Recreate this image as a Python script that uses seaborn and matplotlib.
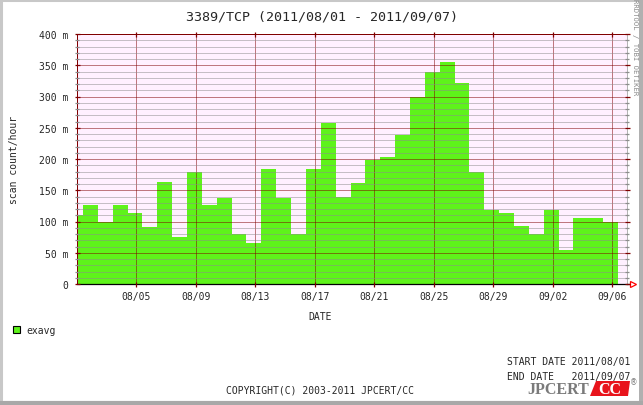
import numpy as np
import pandas as pd
import matplotlib
matplotlib.use("Agg")
import matplotlib.pyplot as plt
import seaborn as sns
from matplotlib.patches import Rectangle, Polygon
from matplotlib.lines import Line2D
from matplotlib.ticker import MultipleLocator, FixedLocator, FixedFormatter

# ---------------- data ----------------
start_date = "2011-08-01"
end_date = "2011-09-07"
bin_offset_days = 0.4          # bars start at this fraction of a day (first bar is partial)
exavg = [111, 127, 100, 127, 113, 92, 164, 76, 180, 126, 137, 80, 65, 184, 137, 80,
         184, 257, 139, 161, 198, 204, 239, 300, 339, 355, 322, 180, 118, 113, 93,
         80, 118, 55, 106, 105, 100]
y_ticks = [0, 50, 100, 150, 200, 250, 300, 350, 400]
y_tick_labels = ["0", "50 m", "100 m", "150 m", "200 m", "250 m", "300 m", "350 m", "400 m"]
x_tick_dates = pd.date_range("2011-08-05", "2011-09-06", freq="4D")
x_tick_labels = [d.strftime("%m/%d") for d in x_tick_dates]

# ---------------- derived ----------------
t0 = pd.Timestamp(start_date)
t1 = pd.Timestamp(end_date)
total_days = (t1 - t0).days
edges = [0.0] + [float(bin_offset_days + k) for k in range(len(exavg))]
centers = [(a + b) / 2 for a, b in zip(edges[:-1], edges[1:])]
df = pd.DataFrame({"day": centers, "exavg": exavg})
x_tick_pos = [(d - t0).days for d in x_tick_dates]

GREEN = "#5ef31a"
PINK = "#fff0ff"
DRED = "#800000"
GRAY = "#8c8c8c"

sns.set_style("white")
plt.rcParams["font.family"] = ["DejaVu Sans Mono", "DejaVu Sans"]

W, H = 643, 406
fig = plt.figure(figsize=(W / 100, H / 100), dpi=100)
fig.patch.set_facecolor("white")
ax = fig.add_axes([77 / W, (H - 285) / H, (627 - 77) / W, 250 / H])
ax.set_facecolor(PINK)

sns.histplot(data=df, x="day", weights="exavg", bins=edges, ax=ax,
             color=GREEN, alpha=1, linewidth=0, edgecolor=GREEN, stat="count")

ax.set_xlim(0, total_days)
ax.set_ylim(0, 400)
ax.set_xlabel("")
ax.set_ylabel("")

# ticks
ax.yaxis.set_major_locator(FixedLocator(y_ticks))
ax.yaxis.set_major_formatter(FixedFormatter(y_tick_labels))
ax.yaxis.set_minor_locator(MultipleLocator(10))
ax.xaxis.set_major_locator(FixedLocator(x_tick_pos))
ax.xaxis.set_major_formatter(FixedFormatter(x_tick_labels))

ax.tick_params(axis="y", which="major", direction="inout", length=3.6, width=0.9,
               color=DRED, labelsize=7, pad=4.5, right=True, left=True)
ax.tick_params(axis="y", which="minor", direction="inout", length=2.2, width=0.9,
               color=GRAY, right=True, left=True)
ax.tick_params(axis="x", which="major", direction="inout", length=3.6, width=0.9,
               color=DRED, labelsize=7, pad=3.5, top=True, bottom=True)

# grid on top of bars
ax.set_axisbelow(False)
ax.grid(which="major", axis="both", color=DRED, linestyle=(0, (1, 1)), linewidth=0.72)
ax.grid(which="minor", axis="y", color=GRAY, linestyle=(0, (1, 1)), linewidth=0.72)

for s in ("left", "top"):
    ax.spines[s].set_color(DRED)
    ax.spines[s].set_linestyle((0, (1, 1)))
    ax.spines[s].set_linewidth(0.72)
ax.spines["right"].set_color("#b4b4b4")
ax.spines["right"].set_linewidth(0.72)
ax.spines["bottom"].set_color("black")
ax.spines["bottom"].set_linewidth(0.9)

# axis arrow at the end of the x axis
ax.plot([1.0, 1.006], [0, 0], transform=ax.transAxes, color="black", lw=0.9, clip_on=False)
ax.plot([1.0115], [0], transform=ax.transAxes, marker=">", markersize=4.5,
        mfc="none", mec="red", mew=0.9, clip_on=False)

# texts
fig.text(0.5, 1 - 17.5 / H, "3389/TCP (2011/08/01 - 2011/09/07)", ha="center", va="center",
         fontsize=9.6)
fig.text(14 / W, 1 - 160 / H, "scan count/hour", rotation=90, ha="center", va="center",
         fontsize=7)
fig.text(320 / W, 1 - 317 / H, "DATE", ha="center", va="center", fontsize=7)
fig.text(635 / W, 1 - 47 / H, "RRDTOOL / TOBI OETIKER", rotation=270, ha="center",
         va="center", fontsize=5.2, color="#8a8a8a")

# legend
fig.patches.append(Rectangle((13 / W, 1 - 334 / H), 7 / W, 7 / H, transform=fig.transFigure,
                             facecolor=GREEN, edgecolor="black", lw=0.8))
fig.text(26 / W, 1 - 331 / H, "exavg", ha="left", va="center", fontsize=7)

fig.text(630 / W, 1 - 362 / H, "START DATE 2011/08/01", ha="right", va="center", fontsize=7)
fig.text(630 / W, 1 - 377 / H, "END DATE   2011/09/07", ha="right", va="center", fontsize=7)
fig.text(320 / W, 1 - 391 / H, "COPYRIGHT(C) 2003-2011 JPCERT/CC", ha="center", va="center",
         fontsize=7)

# logo
fig.text(589 / W, 1 - 390 / H, "JPCERT", ha="right", va="center", fontsize=11.5,
         family="Liberation Serif", weight="bold", color="#7a7a7a")
fig.patches.append(Polygon([(590 / W, 1 - 397 / H), (628 / W, 1 - 397 / H),
                            (630 / W, 1 - 382 / H), (596 / W, 1 - 382 / H)],
                           closed=True, transform=fig.transFigure, facecolor="#e8141c",
                           edgecolor="none"))
fig.text(610 / W, 1 - 390 / H, "CC", ha="center", va="center", fontsize=11.5,
         family="Liberation Serif", weight="bold", color="white")
fig.text(634 / W, 1 - 383 / H, "®", ha="center", va="center", fontsize=5.5,
         family="DejaVu Sans", color="#7a7a7a")

# frame around the image
fig.add_artist(Line2D([1 / W, 1 / W], [0, 1], transform=fig.transFigure, color="#c8c8c8", lw=2.2))
fig.add_artist(Line2D([0, 1], [1 - 1 / H, 1 - 1 / H], transform=fig.transFigure, color="#c8c8c8", lw=2.2))
fig.add_artist(Line2D([1 - 2.5 / W, 1 - 2.5 / W], [0, 1], transform=fig.transFigure, color="#b0b0b0", lw=3.6))
fig.add_artist(Line2D([0, 1], [2 / H, 2 / H], transform=fig.transFigure, color="#a8a8a8", lw=3))

fig.savefig("out.png", dpi=100, facecolor="white")
